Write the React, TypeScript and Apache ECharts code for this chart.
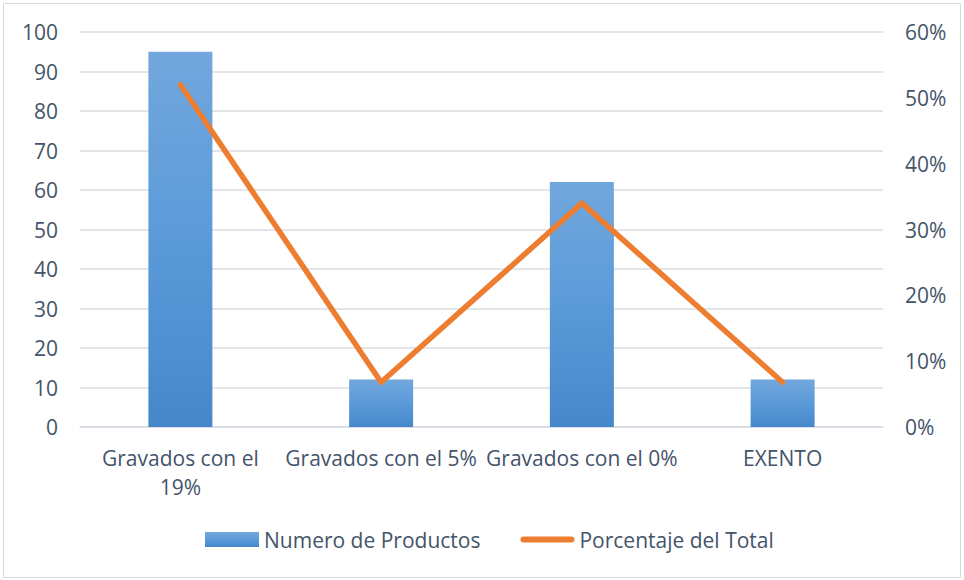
import React, { useEffect, useRef } from "react";
import * as echarts from "echarts";

const categories = ["Gravados con el 19%", "Gravados con el 5%", "Gravados con el 0%", "EXENTO"];
const productCounts = [95, 12, 62, 12];
const shareOfTotal = [0.52, 0.068, 0.34, 0.068];
const leftTicks = { min: 0, max: 100, interval: 10 };
const rightTicks = { min: 0, max: 0.6, interval: 0.1 };

const TEXT = "#44546a";
const FONT = "'Open Sans', 'Noto Sans', sans-serif";
const FS = 21;

export default function App() {
  const ref = useRef<HTMLDivElement>(null);
  useEffect(() => {
    if (!ref.current) return;
    const chart = echarts.init(ref.current, undefined, { renderer: "svg" });
    chart.setOption({
      animation: false,
      backgroundColor: "#ffffff",
      textStyle: { fontFamily: FONT, color: TEXT },
      graphic: [
        {
          type: "rect",
          shape: { x: 3.5, y: 3.5, width: 957, height: 574 },
          style: { fill: "none", stroke: "#d9d9d9", lineWidth: 1 },
          silent: true,
        },
      ],
      grid: { left: 80, right: 81, top: 32, bottom: 153, containLabel: false },
      legend: {
        bottom: 25,
        left: 200,
        itemWidth: 54,
        itemHeight: 15,
        itemGap: 40,
        textStyle: { fontFamily: FONT, fontSize: FS, color: TEXT },
        data: [
          { name: "Numero de Productos", icon: "rect" },
          {
            name: "Porcentaje del Total",
            icon: "path://M3,0 L51,0 A3,3 0 0 1 51,6 L3,6 A3,3 0 0 1 3,0 Z",
            itemStyle: { color: "#ed7d31" },
          },
        ],
      },
      xAxis: {
        type: "category",
        data: categories,
        axisLine: { show: true, lineStyle: { color: "#d9dde3", width: 1.5 } },
        axisTick: { show: false },
        axisLabel: {
          fontFamily: FONT,
          fontSize: FS,
          color: TEXT,
          margin: 16,
          lineHeight: 29,
          interval: 0,
          formatter: (v: string) => (v === "Gravados con el 19%" ? "Gravados con el\n19%" : v),
        },
      },
      yAxis: [
        {
          type: "value",
          min: leftTicks.min,
          max: leftTicks.max,
          interval: leftTicks.interval,
          axisLine: { show: false },
          axisTick: { show: false },
          splitLine: { lineStyle: { color: "#d9dde3", width: 1.5 } },
          axisLabel: { fontFamily: FONT, fontSize: FS, color: TEXT, margin: 22 },
        },
        {
          type: "value",
          min: rightTicks.min,
          max: rightTicks.max,
          interval: rightTicks.interval,
          position: "right",
          axisLine: { show: false },
          axisTick: { show: false },
          splitLine: { show: false },
          axisLabel: {
            fontFamily: FONT,
            fontSize: FS,
            color: TEXT,
            margin: 22,
            formatter: (v: number) => `${Math.round(v * 100)}%`,
          },
        },
      ],
      series: [
        {
          name: "Numero de Productos",
          type: "bar",
          data: productCounts,
          barWidth: 64,
          itemStyle: {
            color: new echarts.graphic.LinearGradient(0, 0, 0, 1, [
              { offset: 0, color: "#72a7dd" },
              { offset: 0.5, color: "#5b9ad9" },
              { offset: 1, color: "#4588ca" },
            ]),
          },
        },
        {
          name: "Porcentaje del Total",
          type: "line",
          yAxisIndex: 1,
          data: shareOfTotal,
          symbol: "none",
          lineStyle: { color: "#ed7d31", width: 5.5, cap: "round", join: "round" },
          itemStyle: { color: "#ed7d31" },
        },
      ],
    });
    return () => chart.dispose();
  }, []);
  return (
    <div
      ref={ref}
      style={{ position: "fixed", left: 0, top: 0, width: 964, height: 580 }}
    />
  );
}
